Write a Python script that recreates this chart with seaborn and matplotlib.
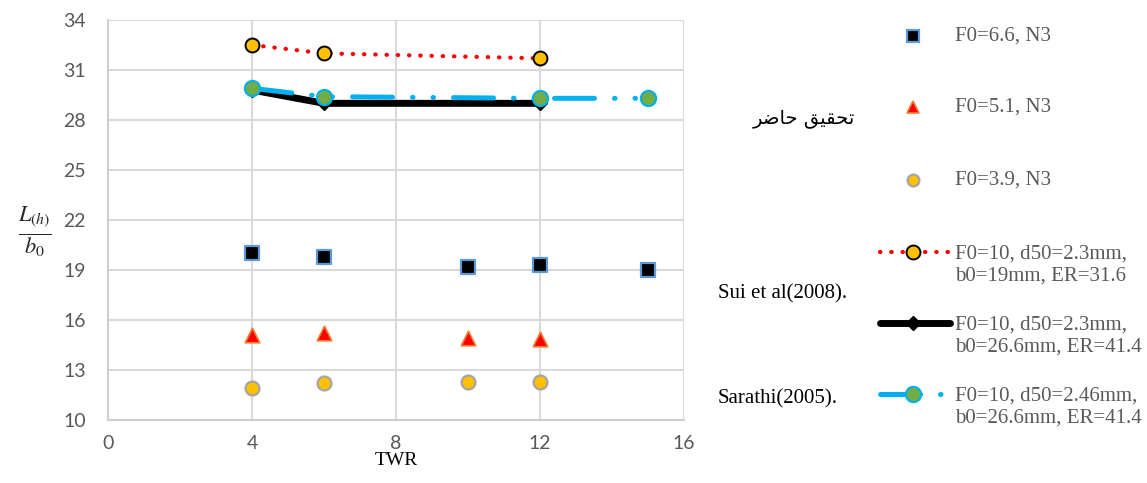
import numpy as np
import pandas as pd
import matplotlib
matplotlib.use("Agg")
import matplotlib.pyplot as plt
from matplotlib.lines import Line2D
import seaborn as sns

# ---------------- data ----------------
twr_f66 = [4, 6, 10, 12, 15]
l_f66 = [20.0, 19.8, 19.2, 19.3, 19.0]
twr_f51 = [4, 6, 10, 12]
l_f51 = [15.1, 15.2, 14.9, 14.85]
twr_f39 = [4, 6, 10, 12]
l_f39 = [11.9, 12.2, 12.3, 12.3]
twr_sui1 = [4, 6, 12]
l_sui1 = [32.5, 32.0, 31.7]
twr_sui2 = [4, 6, 12]
l_sui2 = [29.8, 29.0, 29.0]
twr_sar = [4, 6, 12, 15]
l_sar = [29.9, 29.4, 29.3, 29.3]

x_ticks = [0, 4, 8, 12, 16]
y_ticks = [10, 13, 16, 19, 22, 25, 28, 31, 34]

labels = ["F0=6.6, N3", "F0=5.1, N3", "F0=3.9, N3",
          "F0=10, d50=2.3mm,\nb0=19mm, ER=31.6",
          "F0=10, d50=2.3mm,\nb0=26.6mm, ER=41.4",
          "F0=10, d50=2.46mm,\nb0=26.6mm, ER=41.4"]
group_present = "تحقيق حاضر"
group_sui = "Sui et al(2008)."
group_sar = "Sarathi(2005)."
x_label = "TWR"
y_label = r"$\frac{L_{(h)}}{b_0}$"


def shape_arabic(text):
    forms = {'ت': ('\uFE95', '\uFE96', '\uFE97', '\uFE98'),
             'ح': ('\uFEA1', '\uFEA2', '\uFEA3', '\uFEA4'),
             'ق': ('\uFED5', '\uFED6', '\uFED7', '\uFED8'),
             'ي': ('\uFEF1', '\uFEF2', '\uFEF3', '\uFEF4'),
             'ا': ('\uFE8D', '\uFE8E', None, None),
             'ض': ('\uFEBD', '\uFEBE', '\uFEBF', '\uFEC0'),
             'ر': ('\uFEAD', '\uFEAE', None, None)}
    out = []
    for i, ch in enumerate(text):
        if ch not in forms:
            out.append(ch)
            continue
        prev = text[i - 1] if i > 0 else None
        nxt = text[i + 1] if i + 1 < len(text) else None
        pj = prev in forms and forms[prev][2] is not None
        nj = nxt in forms and forms[ch][2] is not None
        iso, fin, ini, med = forms[ch]
        if pj and nj:
            out.append(med)
        elif pj:
            out.append(fin)
        elif nj:
            out.append(ini)
        else:
            out.append(iso)
    return "".join(out)[::-1]


# ---------------- style ----------------
sns.set_theme(style="white")
plt.rcParams["font.family"] = ["Liberation Serif", "DejaVu Sans"]
plt.rcParams["mathtext.fontset"] = "stix"

W, H = 1147, 483
fig = plt.figure(figsize=(W / 100, H / 100), dpi=100)
ax = fig.add_axes([108 / W, 63 / H, 576 / W, 400 / H])

grid_c = "#d9d9d9"
ax.grid(True, color=grid_c, lw=1.5, zorder=0)
ax.set_axisbelow(True)
for s in ["top", "right"]:
    ax.spines[s].set_visible(False)
for s in ["left", "bottom"]:
    ax.spines[s].set_color("#cfcfcf")
    ax.spines[s].set_linewidth(1.5)

# ---------------- data marks ----------------
sns.scatterplot(x=twr_f66, y=l_f66, marker="s", s=95, color="black",
                edgecolor="#5b9bd5", linewidth=1.6, ax=ax, zorder=3)
sns.scatterplot(x=twr_f51, y=l_f51, marker="^", s=110, color="#ff0000",
                edgecolor="#ed7d31", linewidth=1.2, ax=ax, zorder=3)
sns.scatterplot(x=twr_f39, y=l_f39, marker="o", s=100, color="#ffc000",
                edgecolor="#a5a5a5", linewidth=1.6, ax=ax, zorder=3)

sns.lineplot(x=twr_sui1, y=l_sui1, ax=ax, errorbar=None, color="#ff0000",
             lw=3, linestyle=(0, (0.1, 2.6)), dash_capstyle="round",
             marker="o", markersize=10, markerfacecolor="#ffc000",
             markeredgecolor="black", markeredgewidth=1.4, zorder=4)
sns.lineplot(x=twr_sui2, y=l_sui2, ax=ax, errorbar=None, color="black",
             lw=5, marker="D", markersize=7, markerfacecolor="black",
             markeredgecolor="black", markeredgewidth=1, zorder=4)
sns.lineplot(x=twr_sar, y=l_sar, ax=ax, errorbar=None, color="#00b0f0",
             lw=3.6, linestyle=(0, (8, 4, 0.1, 4, 0.1, 4)),
             dash_capstyle="round", marker="o", markersize=11,
             markerfacecolor="#70ad47", markeredgecolor="#00b0f0",
             markeredgewidth=1.5, zorder=5)

ax.set_xlim(0, 16)
ax.set_ylim(10, 34)
ax.set_xticks(x_ticks, [str(v) for v in x_ticks], fontfamily="Lato")
ax.set_yticks(y_ticks, [str(v) for v in y_ticks], fontfamily="Lato")
ax.tick_params(axis="both", length=0, labelsize=14, labelcolor="#595959")
ax.tick_params(axis="x", pad=11)
ax.tick_params(axis="y", pad=16)

ax.set_xlabel(x_label, fontsize=14, color="black", labelpad=0)
ax.set_ylabel(y_label, fontsize=23, rotation=0, va="center", ha="center")
ax.yaxis.set_label_coords(-0.127, 0.47)

# ---------------- legend (manual) ----------------
def fx(px):
    return px / W


def fy(py):
    return 1 - py / H


mk_x = 913
text_x = 955
rows = [36, 107, 180, 252, 323, 394]
scatter_styles = [
    dict(marker="s", markersize=8, markerfacecolor="black", markeredgecolor="#5b9bd5", markeredgewidth=1.6),
    dict(marker="^", markersize=9, markerfacecolor="#ff0000", markeredgecolor="#ed7d31", markeredgewidth=1.2),
    dict(marker="o", markersize=8.5, markerfacecolor="#ffc000", markeredgecolor="#a5a5a5", markeredgewidth=1.6),
]
line_styles = [
    (dict(color="#ff0000", lw=3, linestyle=(0, (0.1, 2.6)), dash_capstyle="round"),
     dict(marker="o", markersize=10, markerfacecolor="#ffc000", markeredgecolor="black", markeredgewidth=1.4)),
    (dict(color="black", lw=5, solid_capstyle="round"),
     dict(marker="D", markersize=7, markerfacecolor="black", markeredgecolor="black")),
    (dict(color="#00b0f0", lw=3.6, linestyle=(0, (8, 4, 0.1, 4, 0.1, 4)), dash_capstyle="round"),
     dict(marker="o", markersize=11, markerfacecolor="#70ad47", markeredgecolor="#00b0f0", markeredgewidth=1.5)),
]
for i, y in enumerate(rows):
    if i < 3:
        fig.add_artist(Line2D([fx(mk_x)], [fy(y)], transform=fig.transFigure,
                              linestyle="none", **scatter_styles[i]))
        fig.text(fx(text_x), fy(y), labels[i], ha="left", va="center",
                 fontsize=15, color="#595959")
    else:
        lst, mst = line_styles[i - 3]
        fig.add_artist(Line2D([fx(880), fx(950)], [fy(y), fy(y)],
                              transform=fig.transFigure, **lst))
        fig.add_artist(Line2D([fx(mk_x)], [fy(y)], transform=fig.transFigure,
                              linestyle="none", **mst))
        fig.text(fx(text_x), fy(y - 7), labels[i], ha="left", va="top",
                 fontsize=15, color="#595959", linespacing=1.2)

fig.text(fx(855), fy(119), shape_arabic(group_present), ha="right", va="center",
         fontsize=14, color="black", family=["DejaVu Sans"])
fig.text(fx(718), fy(294), group_sui, ha="left", va="center", fontsize=15, color="black")
fig.text(fx(718), fy(399), group_sar, ha="left", va="center", fontsize=15, color="black")

fig.savefig("out.png", dpi=100)
